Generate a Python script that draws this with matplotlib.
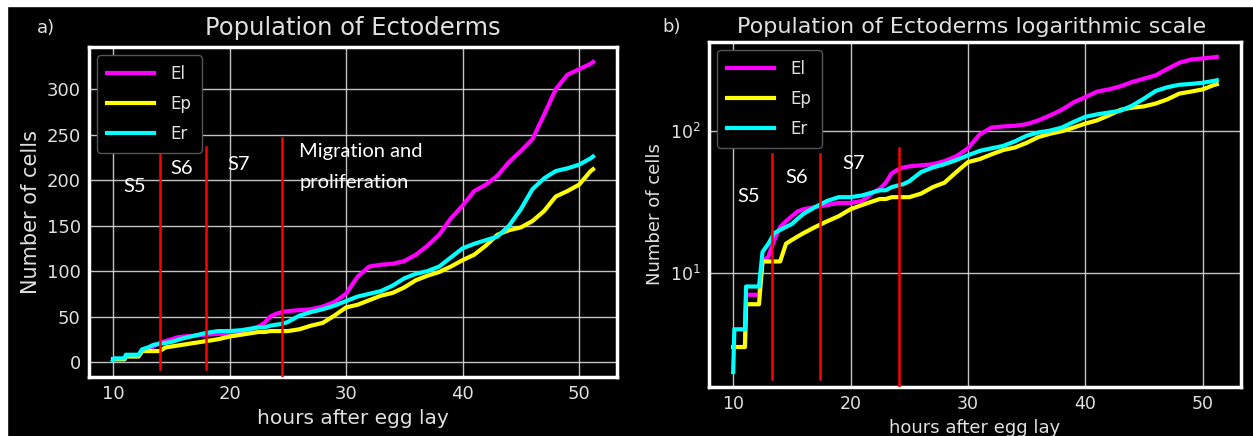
import numpy as np
import matplotlib
matplotlib.use('Agg')
import matplotlib.pyplot as plt
from matplotlib.patches import Rectangle

# hours after egg lay and cell counts
hours = [10.0, 10.1, 11.0, 11.1, 12.2, 12.5, 13.0, 13.5, 14.0, 14.5, 15.0, 15.5,
         16, 17, 18, 19, 20, 21, 22, 22.5, 23, 23.5, 24, 24.5, 25, 26, 27, 28,
         29, 30, 31, 32, 33, 34, 35, 36, 37, 38, 39, 40, 41, 42, 43, 44, 45,
         46, 47, 48, 49, 50, 51, 51.2]
el = [3, 3, 3, 7, 7, 12, 13, 17, 21, 23, 25, 27,
      28, 29, 30, 31, 31, 32, 37, 39, 43, 50, 53, 55, 56, 57, 58, 61,
      66, 75, 94, 105, 107, 108, 111, 118, 128, 140, 158, 172, 188, 195, 205, 220, 232,
      245, 272, 300, 316, 322, 328, 330]
ep = [3, 3, 3, 6, 6, 12, 12, 12, 12, 16, 17, 18,
      19, 21, 23, 25, 28, 30, 32, 33, 33, 34, 34, 34, 34, 36, 40, 43,
      51, 60, 63, 68, 73, 76, 82, 90, 95, 99, 105, 112, 118, 128, 140, 145, 148,
      155, 166, 182, 188, 195, 210, 212]
er = [2, 4, 4, 8, 8, 14, 16, 19, 20, 21, 22, 24,
      26, 29, 32, 34, 34, 35, 37, 38, 38, 40, 41, 42, 44, 51, 55, 58,
      62, 67, 72, 75, 78, 84, 92, 97, 100, 105, 115, 125, 130, 134, 138, 150, 168,
      190, 202, 210, 213, 217, 224, 226]
series = [('El', el, '#ff00ff'), ('Ep', ep, '#ffff00'), ('Er', er, '#00ffff')]

# stage boundaries (x, ymin, ymax) per panel
stages_a = [(14, -8, 236), (18, -8, 236), (24.5, -16, 246)]
stages_b = [(13.3, 1.8, 68), (17.4, 1.8, 68), (24.1, 1.5, 75)]
labels_a = [('S5', 11.9, 193), ('S6', 15.9, 213), ('S7', 20.8, 217)]
labels_b = [('S5', 11.35, 34.5), ('S6', 15.4, 47), ('S7', 20.25, 59)]

fg = '#e0e0e0'
fig = plt.figure(figsize=(12.53, 4.36), dpi=100, facecolor='black')
fig.patches.append(Rectangle((0, 1 - 6/436), 1, 6/436, transform=fig.transFigure,
                             color='white', zorder=-1))
fig.patches.append(Rectangle((0, 0), 7/1253, 1, transform=fig.transFigure,
                             color='white', zorder=-1))

ax1 = fig.add_axes([89/1253, 59/436, 528/1253, 330/436])
ax2 = fig.add_axes([709/1253, 49/436, 532/1253, 345/436])


def style(ax, fs):
    ax.set_facecolor('black')
    for s in ax.spines.values():
        s.set_color('white')
        s.set_linewidth(2.5)
    ax.grid(True, color='#d8d8d8', lw=1, alpha=0.9)
    ax.set_axisbelow(True)
    ax.tick_params(colors=fg, labelsize=fs, length=0, pad=6)
    ax.tick_params(which='minor', length=0)


for ax, stages, labs, fs in [(ax1, stages_a, labels_a, 13), (ax2, stages_b, labels_b, 12.5)]:
    for name, vals, c in series:
        ax.plot(hours, vals, color=c, lw=3, label=name, zorder=3)
    for x, y0, y1 in stages:
        ax.plot([x, x], [y0, y1], color='#ff0000', lw=1.8, zorder=4)
    for t, x, y in labs:
        ax.text(x, y, t, color='white', fontsize=14.5, family='Lato', ha='center', va='center')
    style(ax, fs)
    leg = ax.legend(loc='upper left', fontsize=12, handlelength=2.8, borderpad=0.6,
                    labelspacing=0.7, handletextpad=1.0, facecolor='black',
                    edgecolor='#555555', framealpha=1)
    for t in leg.get_texts():
        t.set_color(fg)

ax1.text(26.0, 231, 'Migration and', color='white', fontsize=14.5, family='Lato', va='center')
ax1.text(26.0, 197, 'proliferation', color='white', fontsize=14.5, family='Lato', va='center')
ax1.set_yticks([0, 50, 100, 150, 200, 250, 300])
ax1.set_xticks([10, 20, 30, 40, 50])
ax1.set_xlim(7.94, 53.26)
ax1.set_ylim(-16.5, 346.5)
ax1.set_ylabel('Number of cells', color=fg, fontsize=15)
ax1.set_xlabel('hours after egg lay', color=fg, fontsize=14.5)

ax2.set_yscale('log')
ax2.set_xticks([10, 20, 30, 40, 50])
ax2.set_xlim(7.94, 53.26)
ax2.set_ylim(1.57, 420)
ax2.set_ylabel('Number of cells', color=fg, fontsize=13)
ax2.set_xlabel('hours after egg lay', color=fg, fontsize=13)

fig.text(353/1253, 1 - 28/436, 'Population of Ectoderms', color=fg, fontsize=17.5,
         ha='center', va='center')
fig.text(46/1253, 1 - 28/436, 'a)', color=fg, fontsize=13, ha='center', va='center')
fig.text(972/1253, 1 - 27/436, 'Population of Ectoderms logarithmic scale', color=fg,
         fontsize=16, ha='center', va='center')
fig.text(672/1253, 1 - 27/436, 'b)', color=fg, fontsize=13, ha='center', va='center')

fig.savefig('out.png', dpi=100, facecolor='black')
